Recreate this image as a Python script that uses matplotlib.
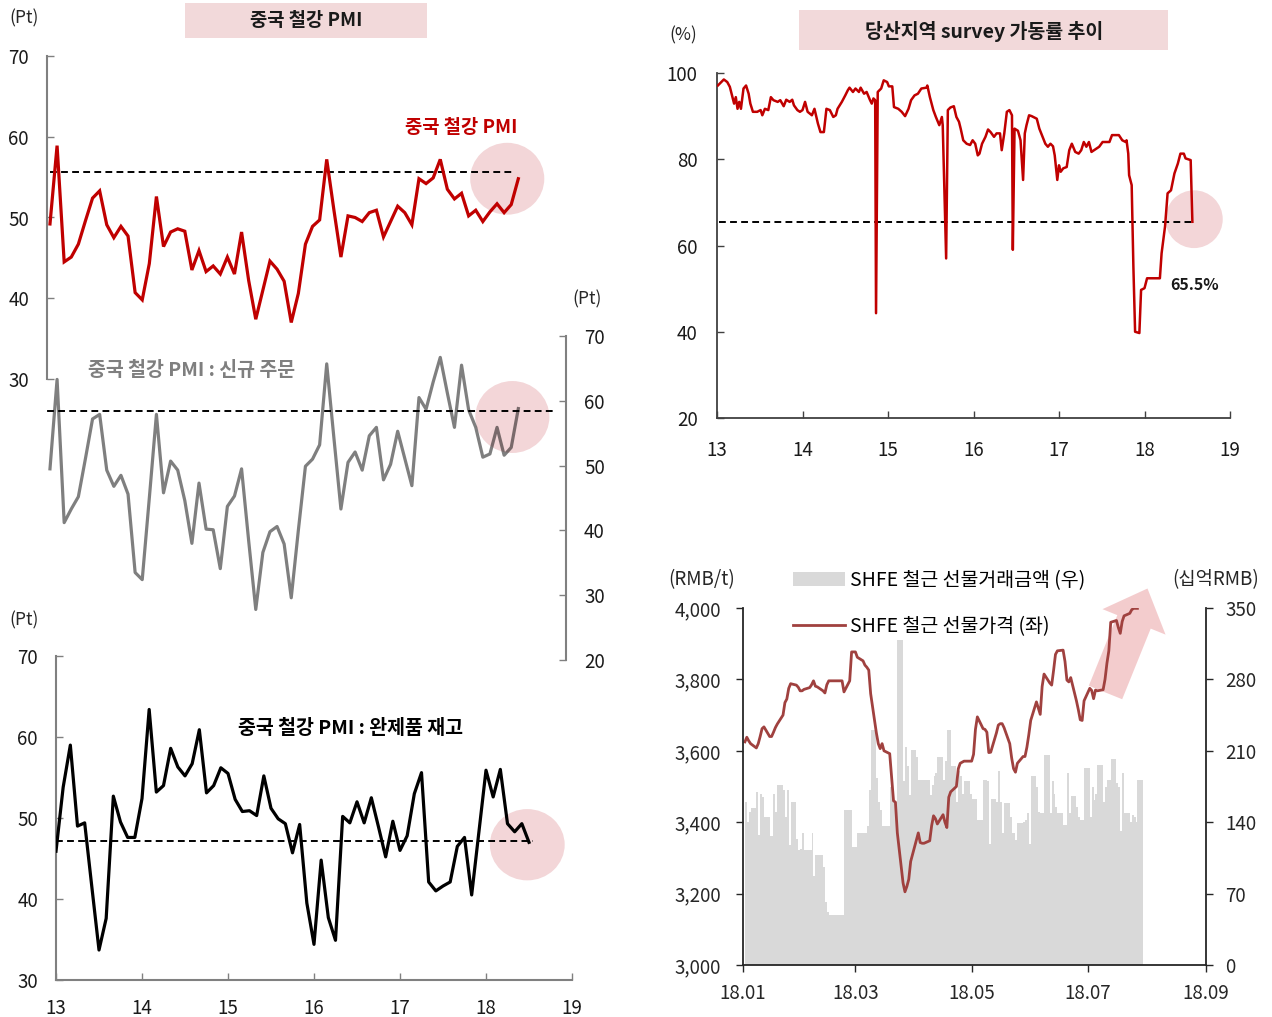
import numpy as np
import pandas as pd
import matplotlib
matplotlib.use("Agg")
import matplotlib.pyplot as plt
from matplotlib.patches import Ellipse, Rectangle, FancyArrow, Patch
from matplotlib.lines import Line2D
import matplotlib.ticker as mticker

plt.rcParams['font.family'] = ['Noto Sans CJK KR', 'DejaVu Sans']

# ---------------- data ----------------
# monthly, 2013.01 - 2018.07
pmi = [49.2, 58.9, 44.5, 45.1, 46.7, 49.6, 52.4, 53.3, 49.1, 47.5, 48.9, 47.7, 40.7, 39.8, 44.3, 52.6, 46.4,
       48.2, 48.6, 48.3, 43.5, 45.9, 43.3, 44.0, 43.0, 45.1, 43.0, 48.2, 42.2, 37.4, 41.0, 44.6, 43.6, 42.1,
       37.0, 40.6, 46.7, 48.9, 49.7, 57.2, 51.0, 45.1, 50.2, 50.0, 49.5, 50.6, 50.9, 47.6, 49.5, 51.4, 50.6,
       49.1, 54.8, 54.2, 54.9, 57.2, 53.5, 52.3, 53.0, 50.2, 50.9, 49.5, 50.7, 51.7, 50.6, 51.6, 54.8]
new_orders = [49.5, 63.3, 41.2, 43.3, 45.2, 51.1, 57.2, 57.9, 49.3, 46.8, 48.5, 45.6, 33.5, 32.4, 45.0, 57.9,
              45.8, 50.7, 49.3, 44.6, 38.0, 47.3, 40.2, 40.1, 34.1, 43.7, 45.3, 49.5, 38.4, 27.8, 36.6, 39.8,
              40.6, 37.9, 29.6, 40.0, 49.9, 51.0, 53.2, 65.7, 54.4, 43.3, 50.5, 52.1, 49.3, 54.6, 55.9, 47.8,
              50.2, 55.3, 51.1, 46.9, 60.5, 58.7, 62.9, 66.7, 61.2, 55.9, 65.5, 58.6, 55.9, 51.3, 51.8, 55.9,
              51.6, 52.8, 58.8]
inventory = [45.9, 53.8, 59.0, 49.0, 49.4, 41.5, 33.7, 37.6, 52.7, 49.5, 47.6, 47.6, 52.4, 63.4, 53.2, 54.0,
             58.6, 56.3, 55.2, 56.7, 60.9, 53.1, 54.0, 56.2, 55.5, 52.3, 50.8, 50.9, 50.3, 55.2, 51.2, 49.9,
             49.3, 45.7, 49.2, 39.5, 34.4, 44.8, 37.7, 34.9, 50.2, 49.4, 52.0, 49.4, 52.5, 48.9, 45.2, 49.6,
             46.0, 47.8, 53.0, 55.6, 42.1, 41.0, 41.6, 42.1, 46.5, 47.6, 40.5, 48.2, 55.9, 52.6, 56.0, 49.3,
             48.3, 49.3, 47.0]
pmi_ref, orders_ref, inv_ref = 55.6, 58.4, 47.1

# Tangshan utilisation survey (year, %)
survey = [(13.01, 97.1), (13.05, 97.9), (13.08, 98.5), (13.12, 97.9), (13.15, 96.8), (13.18, 94.4), (13.20, 92.9),
          (13.22, 94.4), (13.24, 91.7), (13.26, 93.3), (13.28, 91.7), (13.31, 96.4), (13.34, 97.1), (13.37, 95.2),
          (13.39, 92.9), (13.42, 91.0), (13.47, 91.0), (13.51, 91.4), (13.53, 90.2), (13.56, 91.7), (13.60, 91.4),
          (13.63, 94.4), (13.66, 93.7), (13.71, 93.3), (13.74, 93.7), (13.78, 92.3), (13.81, 93.8), (13.85, 93.3),
          (13.88, 93.8), (13.90, 92.5), (13.94, 91.4), (13.97, 91.0), (14.00, 91.4), (14.03, 93.3), (14.06, 91.0),
          (14.11, 90.2), (14.14, 91.7), (14.18, 88.3), (14.21, 86.3), (14.25, 86.3), (14.28, 91.7), (14.32, 91.4),
          (14.36, 89.8), (14.39, 90.2), (14.41, 91.7), (14.46, 93.3), (14.50, 94.8), (14.53, 96.0), (14.55, 96.6),
          (14.59, 95.6), (14.62, 96.4), (14.66, 95.6), (14.68, 96.6), (14.72, 95.2), (14.75, 95.6), (14.79, 93.7),
          (14.81, 92.9), (14.83, 94.1), (14.85, 93.7), (14.86, 44.3), (14.88, 95.6), (14.92, 96.4), (14.95, 98.3),
          (14.99, 97.9), (15.01, 96.9), (15.05, 96.9), (15.07, 92.1), (15.12, 91.7), (15.16, 91.0), (15.20, 90.0),
          (15.24, 91.7), (15.27, 93.7), (15.31, 94.8), (15.35, 95.2), (15.39, 96.4), (15.45, 96.6), (15.46, 97.1),
          (15.49, 94.4), (15.53, 91.4), (15.56, 89.8), (15.60, 87.9), (15.63, 89.8), (15.64, 87.9), (15.68, 57.0),
          (15.70, 91.4), (15.73, 92.0), (15.77, 92.3), (15.80, 89.8), (15.83, 88.7), (15.85, 87.1), (15.88, 84.4),
          (15.92, 83.6), (15.96, 83.3), (15.99, 84.4), (16.02, 83.6), (16.05, 80.9), (16.07, 81.3), (16.10, 83.6),
          (16.14, 85.2), (16.17, 86.9), (16.20, 86.3), (16.24, 85.2), (16.27, 86.0), (16.31, 86.0), (16.33, 82.1),
          (16.36, 86.0), (16.39, 91.0), (16.42, 91.4), (16.45, 90.2), (16.46, 59.0), (16.48, 87.1), (16.52, 86.6),
          (16.55, 84.4), (16.58, 75.2), (16.60, 86.0), (16.62, 87.9), (16.65, 90.2), (16.68, 90.0), (16.74, 89.4),
          (16.77, 87.1), (16.80, 85.6), (16.84, 83.6), (16.87, 82.9), (16.90, 83.6), (16.93, 83.0), (16.95, 80.9),
          (16.98, 75.2), (17.00, 78.6), (17.02, 77.1), (17.05, 77.9), (17.09, 78.2), (17.12, 82.1), (17.15, 83.6),
          (17.19, 81.7), (17.23, 81.3), (17.26, 82.1), (17.29, 84.0), (17.32, 82.9), (17.35, 84.0), (17.38, 81.7),
          (17.41, 82.1), (17.47, 82.9), (17.51, 84.0), (17.59, 84.0), (17.62, 85.6), (17.70, 85.6), (17.74, 84.4),
          (17.78, 84.0), (17.79, 84.4), (17.81, 81.3), (17.82, 76.3), (17.85, 74.0), (17.87, 55.1), (17.89, 40.0),
          (17.94, 39.7), (17.96, 49.7), (18.00, 50.1), (18.03, 52.4), (18.08, 52.4), (18.18, 52.4), (18.20, 58.2),
          (18.24, 64.4), (18.27, 72.1), (18.31, 72.8), (18.35, 76.7), (18.39, 79.0), (18.42, 81.3), (18.46, 81.3),
          (18.48, 80.2), (18.54, 79.8), (18.56, 65.5)]
survey_ref = 65.5

# SHFE rebar futures, business days 2018-01-02 .. 2018-07-27
price_jan = [3625, 3638, 3628, 3620, 3608, 3620, 3640, 3662, 3667, 3640, 3640, 3652, 3665, 3675, 3700, 3735,
             3745, 3775, 3788, 3784, 3778, 3768]
price_feb = [3768, 3772, 3777, 3785, 3796, 3781, 3779, 3768, 3762, 3785, 3796, 3796, 3796, 3796, 3796, 3796,
             3765, 3796, 3877, 3877]
price_mar = [3877, 3862, 3852, 3840, 3834, 3826, 3760, 3650, 3620, 3606, 3620, 3600, 3592, 3525, 3460, 3456,
             3370, 3230, 3205, 3220, 3240, 3290]
price_apr = [3350, 3370, 3343, 3341, 3341, 3348, 3390, 3418, 3410, 3395, 3421, 3400, 3385, 3470, 3485, 3500,
             3550, 3565, 3568, 3571, 3571]
price_may = [3571, 3590, 3660, 3695, 3662, 3660, 3652, 3595, 3596, 3650, 3672, 3676, 3676, 3665, 3620, 3580,
             3550, 3540, 3565, 3584, 3584, 3610, 3645]
price_jun = [3685, 3737, 3720, 3702, 3780, 3815, 3790, 3784, 3825, 3870, 3880, 3882, 3850, 3798, 3793, 3805,
             3740, 3715, 3687, 3685, 3740]
price_jul = [3775, 3769, 3746, 3770, 3768, 3771, 3800, 3845, 3880, 3960, 3965, 3945, 3929, 3962, 3978, 3985,
             3995, 3999, 3999, 3999]

vol_jan = [160, 140, 150, 154, 170, 127, 168, 165, 145, 126, 126, 168, 150, 176, 172, 145, 172, 118, 160, 124,
           113, 114]
vol_feb = [129, 113, 113, 129, 87, 108, 108, 96, 62, 52, 49, 49, 49, 49, 49, 49, 152, 152, 116, 116]
vol_mar = [116, 129, 129, 129, 136, 172, 230, 183, 160, 152, 136, 136, 175, 163, 160, 160, 319, 180, 214, 195,
           167, 211]
vol_apr = [204, 181, 181, 181, 181, 167, 176, 185, 188, 204, 181, 200, 230, 230, 195, 160, 190, 185, 168, 180, 168]
vol_may = [163, 163, 163, 142, 181, 181, 180, 119, 163, 160, 190, 160, 129, 159, 145, 129, 129, 123, 139, 140,
           142, 149, 119]
vol_jun = [185, 175, 150, 149, 149, 206, 149, 180, 168, 155, 149, 137, 137, 188, 149, 166, 155, 145, 142, 142, 193]
vol_jul = [145, 175, 162, 168, 196, 160, 175, 181, 181, 202, 178, 175, 131, 188, 149, 140, 147, 145, 140, 181]

# ---------------- figure ----------------
W, H = 1272, 1017
fig = plt.figure(figsize=(W / 100, H / 100), dpi=100)


def box(x0, y0, x1, y1):
    return [x0 / W, 1 - y1 / H, (x1 - x0) / W, (y1 - y0) / H]


RED = '#C00000'
PINK = '#F3D6D8'
TITLE_BG = '#F2D9DA'
SPINE_G = '#808080'
TICK_FS = 13.5
LABEL_FS = 13.5

# overlay for annotation graphics / texts (pixel coordinates)
ov = fig.add_axes([0, 0, 1, 1])
ov.set_xlim(0, W)
ov.set_ylim(H, 0)
ov.axis('off')

ov.add_patch(Rectangle((185, 3), 242, 35, color=TITLE_BG, lw=0))
ov.text(306, 21, '중국 철강 PMI', ha='center', va='center', fontsize=13.5, fontweight='bold', color='#1a1a1a')
ov.add_patch(Rectangle((799, 10), 369, 40, color=TITLE_BG, lw=0))
ov.text(984, 31, '당산지역 survey 가동률 추이', ha='center', va='center', fontsize=14, fontweight='bold',
        color='#1a1a1a')
ov.add_patch(FancyArrow(1105.5, 692.5, 42, -104, width=36, head_width=68, head_length=36,
                        length_includes_head=True, color='#F2C3C5', alpha=0.85, lw=0))

for (px, py, s, fs) in [(24, 18, '(Pt)', 12.5), (587, 299, '(Pt)', 12.5), (24, 620, '(Pt)', 12.5),
                        (683, 35, '(%)', 12.5), (702, 580, '(RMB/t)', 13.5), (1216, 580, '(십억RMB)', 13.5)]:
    ov.text(px, py, s, ha='center', va='center', fontsize=fs, color='#262626')

months = 13 + np.arange(len(pmi)) / 12.0


def style_inward(ax, color):
    ax.tick_params(direction='in', length=5, width=1, colors=color, labelcolor='#1a1a1a',
                   labelsize=TICK_FS)


# ---- top-left: steel PMI (left axis) ----
ax1 = fig.add_axes(box(47, 56, 566, 379))
ax1.patch.set_visible(False)
ax1.set_xlim(12.965, 19.06)
ax1.set_ylim(30, 70)
for s in ['top', 'right', 'bottom']:
    ax1.spines[s].set_visible(False)
ax1.spines['left'].set_color(SPINE_G)
ax1.spines['left'].set_linewidth(1.5)
ax1.set_xticks([])
ax1.set_yticks([30, 40, 50, 60, 70])
style_inward(ax1, SPINE_G)
ax1.tick_params(axis='y', pad=13)
ax1.add_patch(Ellipse((18.37, 54.8), 0.87, 8.9, color=PINK, lw=0, zorder=1, clip_on=False))
ax1.plot([13.0, 18.42], [pmi_ref, pmi_ref], color='black', lw=1.4, ls=(0, (3.5, 2.2)), zorder=2)
ax1.plot(months, pmi, color=RED, lw=2.3, zorder=3, solid_joinstyle='miter')
ax1.text(17.83, 61.1, '중국 철강 PMI', ha='center', va='center', fontsize=LABEL_FS, fontweight='bold', color=RED)

# ---- top-left: new orders (right axis) ----
ax2 = fig.add_axes(box(47, 336, 566, 660))
ax2.patch.set_visible(False)
ax2.set_xlim(12.965, 19.06)
ax2.set_ylim(20, 70)
for s in ['top', 'left', 'bottom']:
    ax2.spines[s].set_visible(False)
ax2.spines['right'].set_color(SPINE_G)
ax2.spines['right'].set_linewidth(1.5)
ax2.set_xticks([])
ax2.yaxis.tick_right()
ax2.set_yticks([20, 30, 40, 50, 60, 70])
style_inward(ax2, SPINE_G)
ax2.tick_params(axis='y', pad=13)
ax2.add_patch(Ellipse((18.43, 57.5), 0.87, 11.1, color=PINK, lw=0, zorder=1, clip_on=False))
ax2.plot([12.84, 18.91], [orders_ref, orders_ref], color='black', lw=1.4, ls=(0, (3.5, 2.2)), zorder=2)
ax2.plot(months, new_orders, color='black', alpha=0.5, lw=2.3, zorder=3)
ax2.text(14.66, 64.75, '중국 철강 PMI : 신규 주문', ha='center', va='center', fontsize=14, fontweight='bold',
         color='#7F7F7F')

# ---- bottom-left: inventory ----
ax3 = fig.add_axes(box(56, 656, 572, 980))
ax3.patch.set_visible(False)
ax3.set_xlim(13, 19)
ax3.set_ylim(30, 70)
for s in ['top', 'right']:
    ax3.spines[s].set_visible(False)
for s in ['left', 'bottom']:
    ax3.spines[s].set_color(SPINE_G)
    ax3.spines[s].set_linewidth(1.5)
ax3.set_xticks(range(13, 20))
ax3.set_yticks([30, 40, 50, 60, 70])
style_inward(ax3, SPINE_G)
ax3.tick_params(axis='y', pad=13)
ax3.tick_params(axis='x', pad=13)
ax3.add_patch(Ellipse((18.48, 46.7), 0.87, 8.8, color=PINK, lw=0, zorder=1, clip_on=False))
ax3.plot([13.0, 18.55], [inv_ref, inv_ref], color='black', lw=1.4, ls=(0, (3.5, 2.2)), zorder=2)
ax3.plot(months, inventory, color='black', lw=2.3, zorder=3)
ax3.text(16.42, 61.0, '중국 철강 PMI : 완제품 재고', ha='center', va='center', fontsize=14, fontweight='bold',
         color='black')

# ---- top-right: Tangshan survey ----
sx = [p[0] for p in survey]
sy = [p[1] for p in survey]
ax4 = fig.add_axes(box(717, 73, 1230, 418))
ax4.patch.set_visible(False)
ax4.set_xlim(13, 19)
ax4.set_ylim(20, 100)
for s in ['top', 'right']:
    ax4.spines[s].set_visible(False)
for s in ['left', 'bottom']:
    ax4.spines[s].set_color('#404040')
    ax4.spines[s].set_linewidth(1.3)
ax4.set_xticks(range(13, 20))
ax4.set_yticks([20, 40, 60, 80, 100])
style_inward(ax4, '#404040')
ax4.tick_params(axis='y', pad=14)
ax4.tick_params(axis='x', pad=16)
ax4.add_patch(Ellipse((18.58, 66.1), 0.67, 13.4, color=PINK, lw=0, zorder=1, clip_on=False))
ax4.plot([13.02, 18.55], [survey_ref, survey_ref], color='black', lw=1.4, ls=(0, (3.5, 2.2)), zorder=2)
ax4.plot(sx, sy, color=RED, lw=1.8, zorder=3)
ax4.text(18.58, 50.9, f'{survey_ref}%', ha='center', va='center', fontsize=11.5, fontweight='bold',
         color='#1a1a1a')

# ---- bottom-right: SHFE rebar ----
dates = pd.bdate_range('2018-01-02', '2018-07-27')
price = price_jan + price_feb + price_mar + price_apr + price_may + price_jun + price_jul
vol = vol_jan + vol_feb + vol_mar + vol_apr + vol_may + vol_jun + vol_jul
dnum = matplotlib.dates.date2num(dates)
widths = np.append(np.diff(dnum), 3.0)

axp = fig.add_axes(box(743, 608, 1206, 965))
axv = axp.twinx()
axp.set_zorder(axv.get_zorder() + 1)
axp.patch.set_visible(False)
axv.patch.set_visible(False)

axv.bar(dnum, vol, width=widths, align='edge', color='#D9D9D9', lw=0)
axv.set_ylim(0, 350)
axv.set_yticks([0, 70, 140, 210, 280, 350])

axp.plot(dnum, price, color='#A0413F', lw=2.0)
axp.set_ylim(3000, 4000)
axp.set_yticks(np.arange(3000, 4001, 200))
axp.yaxis.set_major_formatter(mticker.FuncFormatter(lambda v, p: f'{int(v):,}'))
xt = pd.to_datetime(['2018-01-01', '2018-03-01', '2018-05-01', '2018-07-01', '2018-09-01'])
axp.set_xlim(matplotlib.dates.date2num(xt[0]), matplotlib.dates.date2num(xt[-1]))
axp.set_xticks(matplotlib.dates.date2num(xt))
axp.set_xticklabels(['18.01', '18.03', '18.05', '18.07', '18.09'])

for a in (axp, axv):
    for s in ['top']:
        a.spines[s].set_visible(False)
    for s in ['left', 'right', 'bottom']:
        a.spines[s].set_color('#262626')
        a.spines[s].set_linewidth(1.3)
    a.tick_params(direction='out', length=5, width=1, colors='#262626', labelsize=TICK_FS)
axp.spines['right'].set_visible(False)
axv.spines['left'].set_visible(False)
axv.spines['bottom'].set_visible(False)
axp.tick_params(axis='x', pad=8)
axp.tick_params(axis='y', pad=11)
axv.tick_params(axis='y', pad=9)

handles = [Patch(color='#D9D9D9', lw=0), Line2D([], [], color='#A0413F', lw=2.0)]
fig.legend(handles, ['SHFE 철근 선물거래금액 (우)', 'SHFE 철근 선물가격 (좌)'],
           loc='upper left', bbox_to_anchor=(793 / W, 1 - 570 / H), frameon=False, fontsize=14,
           handlelength=2.7, handletextpad=0.25, labelspacing=1.3, borderpad=0, borderaxespad=0)

fig.savefig('out.png', dpi=100)
